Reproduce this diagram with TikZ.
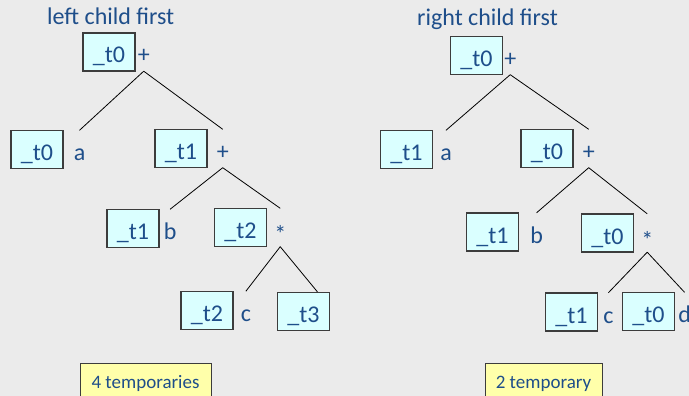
\documentclass[tikz,border=0pt]{standalone}
\usepackage{fontspec}
\setmainfont{Carlito}
\usetikzlibrary{positioning}

\begin{document}
\begin{tikzpicture}[x=1pt, y=-1pt,
    tbox/.style={draw=boxedge, fill=boxfill, line width=1.1pt,
        minimum width=52pt, minimum height=38pt, inner sep=0pt,
        text height=22pt, text depth=0pt, text=ink,
        font=\fontsize{24}{28}\selectfont},
    oplab/.style={inner sep=0pt, minimum height=38pt,
        text height=22pt, text depth=0pt, text=ink,
        font=\fontsize{24}{28}\selectfont},
    title/.style={text=ink, inner sep=0pt, font=\fontsize{24}{28}\selectfont},
    note/.style={draw=boxedge, fill=notefill, line width=1pt, anchor=north,
        minimum height=36pt, inner sep=0pt, text height=14pt, text depth=0pt,
        text=ink, font=\fontsize{19}{22}\selectfont},
    edge/.style={line width=0.8pt, black}]

            % Definindo cores
            \definecolor{paper}{RGB}{235, 235, 235}     % fundo cinza
            \definecolor{ink}{RGB}{30, 78, 138}         % azul do texto
            \definecolor{boxfill}{RGB}{218, 255, 255}   % ciano claro das caixas
            \definecolor{boxedge}{RGB}{60, 60, 60}
            \definecolor{notefill}{RGB}{255, 255, 170}  % amarelo das notas

            \useasboundingbox (0,0) rectangle (689,396);
            \fill[paper] (0,0) rectangle (689,396);

            % 1. Arvore da esquerda (filho esquerdo primeiro)
            \node[title, anchor=base west] (lefttitle) at (47,25) {left child first};

            \node[tbox] (L0) at (109,52) {\_t0};
            \node[oplab, right=2pt of L0] (L0op) {+};

            \node[tbox] (La) at (37,149.5) {\_t0};
            \node[oplab, right=10pt of La] (Laop) {a};
            \node[tbox] (L1) at (181,148.5) {\_t1};
            \node[oplab, right=9pt of L1] (L1op) {+};

            \node[tbox] (Lb) at (133,228.5) {\_t1};
            \node[oplab, right=4pt of Lb] (Lbop) {b};
            \node[tbox] (L2) at (240.5,227.5) {\_t2};
            \node[oplab, right=7pt of L2] (L2op) {\raisebox{-4pt}{*}};

            \node[tbox] (Lc) at (207,310.5) {\_t2};
            \node[oplab, right=7pt of Lc] (Lcop) {c};
            \node[tbox] (L3) at (303.5,311.5) {\_t3};

            \draw[edge] (L0op.south) -- (Laop.north);
            \draw[edge] (L0op.south) -- (L1op.north);
            \draw[edge] (L1op.south) -- (Lbop.north);
            \draw[edge] (L1op.south) -- (L2op.north);
            \draw[edge] (L2op.south) -- (Lcop.north);
            \draw[edge] (L2op.south) -- ([xshift=14pt]L3.north);

            \node[note, minimum width=131pt] (leftnote) at (145.5,363) {4 temporaries};

            % 2. Arvore da direita (filho direito primeiro)
            \node[title, anchor=base west] (righttitle) at (417,26) {right child first};

            \node[tbox] (R0) at (476.5,55.5) {\_t0};
            \node[oplab, right=1pt of R0] (R0op) {+};

            \node[tbox] (Ra) at (406.5,149.5) {\_t1};
            \node[oplab, right=7pt of Ra] (Raop) {a};
            \node[tbox] (R1) at (547,148.5) {\_t0};
            \node[oplab, right=9pt of R1] (R1op) {+};

            \node[tbox] (Rb) at (492.5,232) {\_t1};
            \node[oplab, right=11pt of Rb] (Rbop) {b};
            \node[tbox] (R2) at (607.5,233) {\_t0};
            \node[oplab, right=7pt of R2] (R2op) {\raisebox{-4pt}{*}};

            \node[tbox] (Rc) at (571.5,312) {\_t1};
            \node[oplab, right=5pt of Rc] (Rcop) {c};
            \node[tbox] (Rd) at (648.5,311.5) {\_t0};
            \node[oplab, right=3pt of Rd] (Rdop) {d};

            \draw[edge] (R0op.south) -- (Raop.north);
            \draw[edge] (R0op.south) -- (R1op.north);
            \draw[edge] (R1op.south) -- (Rbop.north);
            \draw[edge] (R1op.south) -- (R2op.north);
            \draw[edge] (R2op.south) -- (Rcop.north);
            \draw[edge] (R2op.south) -- (Rdop.north);

            \node[note, minimum width=117pt] (rightnote) at (543.5,363) {2 temporary};

\end{tikzpicture}
\end{document}
